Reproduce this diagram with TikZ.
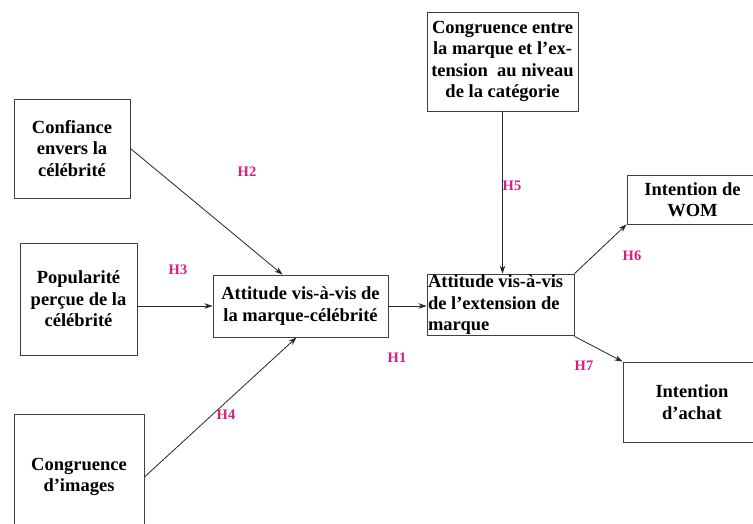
\documentclass[tikz,border=0pt]{standalone}
\usepackage{fontspec}
\setmainfont{Liberation Serif}
\usetikzlibrary{arrows.meta}
\definecolor{hyppink}{RGB}{214,30,130}
\begin{document}
\begin{tikzpicture}[x=1pt,y=-1pt,
    box/.style={draw=black!75, line width=0.9pt, align=center, inner sep=1pt,
      font=\bfseries\fontsize{18.5}{21.5}\selectfont},
    link/.style={-{Stealth[length=8pt,width=5.5pt]}, line width=0.8pt, black!85},
    hyp/.style={text=hyppink, font=\bfseries\fontsize{14.5}{16}\selectfont}]
    \useasboundingbox[fill=white] (0,0) rectangle (753,523);
    % Antecedents
    \node[box, minimum width=116pt, minimum height=99pt] (conf) at (72,148.5)
        {Confiance\\envers la\\célébrité};
    \node[box, minimum width=117pt, minimum height=112pt] (pop) at (78.5,299)
        {Popularité\\perçue de la\\célébrité};
    \node[box, minimum width=130pt, minimum height=126pt] (img) at (79,477)
        {Congruence\\d’images};
    \node[box, minimum width=151pt, minimum height=99pt] (cong) at (502.5,61.5)
        {Congruence entre\\la marque et l’ex-\\tension\ \ au niveau\\de la catégorie};
    % Attitudes
    \node[box, minimum width=175pt, minimum height=62pt] (att1) at (300.5,306)
        {Attitude vis-à-vis de\\la marque-célébrité};
    \node[box, minimum width=147pt, minimum height=60pt, text width=145pt, align=flush left] (att2) at (500.5,305)
        {Attitude vis-à-vis\\de l’extension de\\marque};
    % Outcomes
    \node[box, minimum width=131pt, minimum height=49pt] (wom) at (692.5,199.5)
        {Intention de\\WOM};
    \node[box, minimum width=138pt, minimum height=80pt] (achat) at (692,402)
        {Intention\\d’achat};
    % Paths
    \draw[link] (conf.east) -- ([xshift=-18pt]att1.north);
    \draw[link] (pop.east |- att1.west) -- (att1.west);
    \draw[link] (img.east) -- ([xshift=-4pt]att1.south);
    \draw[link] (att1.east) -- (att1.east -| att2.west);
    \draw[link] (cong.south) -- (cong.south |- att2.north);
    \draw[link] (att2.north east) -- (wom.south west);
    \draw[link] (att2.south east) -- (achat.north west);
    % Hypotheses
    \foreach \n/\x/\y in {1/397/358, 2/247/172, 3/178/270, 4/226/415, 5/512/186, 6/632/256, 7/584/366}
        \node[hyp] (h\n) at (\x,\y) {H\n};
\end{tikzpicture}
\end{document}
